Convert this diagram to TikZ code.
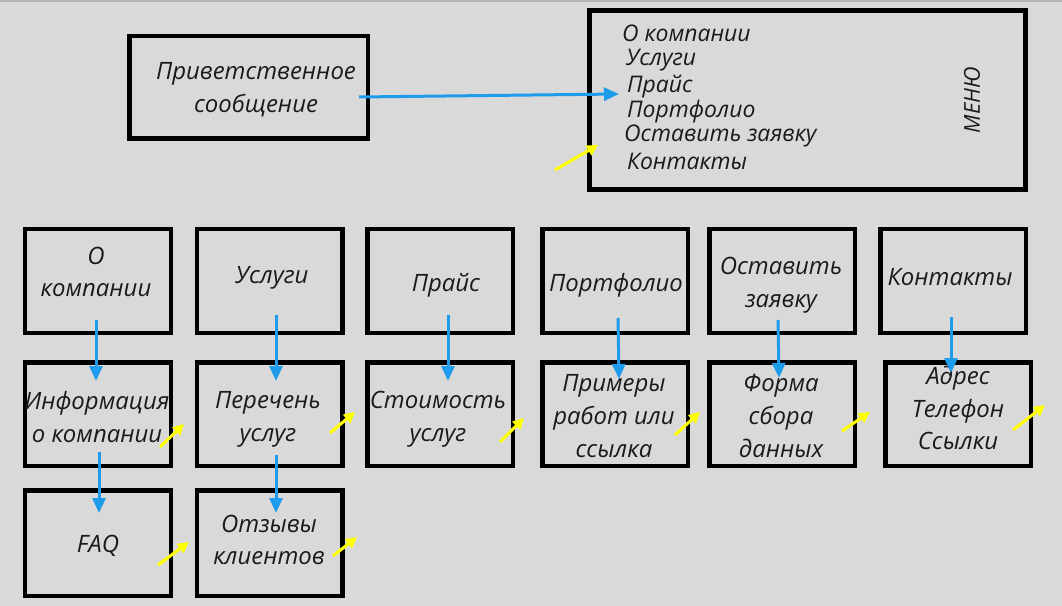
\documentclass[tikz,border=0pt]{standalone}
\usepackage{fontspec}
\setmainfont{Open Sans}
\usetikzlibrary{arrows.meta}
\definecolor{bg}{HTML}{D9D9D9}
\definecolor{topline}{HTML}{B4B4B4}
\definecolor{arrblue}{HTML}{1E9BEA}
\definecolor{arryel}{HTML}{FFFF00}
\definecolor{txt}{HTML}{1A1A1A}
\tikzset{
  box/.style={draw=black, line width=4.5bp, inner sep=0pt, minimum width=145.5bp, minimum height=103.5bp},
  lbl/.style={font=\itshape\fontsize{24}{33}\selectfont, text=txt, align=center, inner sep=0pt},
  mlbl/.style={font=\itshape\fontsize{23}{26}\selectfont, text=txt, anchor=base west, inner sep=0pt},
  barrow/.style={arrblue, line width=3bp, -{Triangle[length=15bp,width=13bp]}},
  yarrow/.style={arryel, line width=3bp, -{Triangle[length=11bp,width=11bp]}}
}
\begin{document}
\begin{tikzpicture}[x=1bp,y=-1bp]
\useasboundingbox (0,0) rectangle (1062,606);
\fill[bg] (0,0) rectangle (1062,606);
\fill[topline] (0,0) rectangle (1062,2);

% top boxes
\node[box, minimum width=238.5bp, minimum height=102.5bp] (greet) at (248.5,87.5) {};
\node[box, line width=5bp, minimum width=436bp, minimum height=179bp] (menu) at (807.5,100) {};

\node[lbl] (greett) at (256,90) {Приветственное\\сообщение};

\node[mlbl] (m1) at (622,42) {О компании};
\node[mlbl] (m2) at (626,66) {Услуги};
\node[mlbl] (m3) at (627,93) {Прайс};
\node[mlbl] (m4) at (627,118) {Портфолио};
\node[mlbl] (m5) at (624,142) {Оставить заявку};
\node[mlbl] (m6) at (627,170) {Контакты};
\node[lbl, font=\itshape\fontsize{22}{26}\selectfont, rotate=90] (menut) at (972,100) {МЕНЮ};

% row 1
\node[box] (b1) at (98,281) {};
\node[box] (b2) at (269.5,281) {};
\node[box] (b3) at (440,281) {};
\node[box] (b4) at (615,281) {};
\node[box] (b5) at (782,281) {};
\node[box] (b6) at (953,281) {};
% row 2
\node[box] (c1) at (98,414) {};
\node[box] (c2) at (269.5,414) {};
\node[box] (c3) at (440,414) {};
\node[box] (c4) at (615,414) {};
\node[box] (c5) at (782,414) {};
\node[box] (c6) at (958,414) {};
% row 3
\node[box, minimum height=105.5bp] (d1) at (98,543) {};
\node[box, minimum height=105.5bp] (d2) at (269.5,543) {};

% labels
\node[lbl] (t1) at (96,272) {О\\компании};
\node[lbl] (t2) at (272,278) {Услуги};
\node[lbl] (t3) at (446,285) {Прайс};
\node[lbl] (t4) at (616,285) {Портфолио};
\node[lbl] (t5) at (781,285) {Оставить\\заявку};
\node[lbl] (t6) at (950,277) {Контакты};

\node[lbl] (u1) at (97,417) {Информация\\о компании};
\node[lbl] (u2) at (268,419) {Перечень\\услуг};
\node[lbl] (u3) at (438,419) {Стоимость\\услуг};
\node[lbl] (u4) at (614,416) {Примеры\\работ или\\ссылка};
\node[lbl] (u5) at (781,416) {Форма\\сбора\\данных};
\node[lbl] (u6) at (958,408) {Адрес\\Телефон\\Ссылки};

\node[lbl] (v1) at (98,546) {FAQ};
\node[lbl] (v2) at (269,540) {Отзывы\\клиентов};

% blue arrow ends
\coordinate (g0) at (359,97);   \coordinate (g1) at (619,94);
\coordinate (a1s) at (96,320);  \coordinate (a1e) at (96,381);
\coordinate (a2s) at (276,315); \coordinate (a2e) at (276,381);
\coordinate (a3s) at (448,315); \coordinate (a3e) at (448,381);
\coordinate (a4s) at (618,318); \coordinate (a4e) at (619,379);
\coordinate (a5s) at (778,320); \coordinate (a5e) at (779,378);
\coordinate (a6s) at (951,317); \coordinate (a6e) at (951,373);
\coordinate (f1s) at (99,452);  \coordinate (f1e) at (99,513);
\coordinate (f2s) at (276,455); \coordinate (f2e) at (276,513);

\draw[barrow] (g0) -- (g1);
\draw[barrow] (a1s) -- (a1e);
\draw[barrow] (a2s) -- (a2e);
\draw[barrow] (a3s) -- (a3e);
\draw[barrow] (a4s) -- (a4e);
\draw[barrow] (a5s) -- (a5e);
\draw[barrow] (a6s) -- (a6e);
\draw[barrow] (f1s) -- (f1e);
\draw[barrow] (f2s) -- (f2e);

% yellow arrows
\coordinate (y0s) at (555,170);  \coordinate (y0e) at (598,145);
\coordinate (y1s) at (160,447);  \coordinate (y1e) at (184,424);
\coordinate (y2s) at (330,433);  \coordinate (y2e) at (355,412);
\coordinate (y3s) at (158,565);  \coordinate (y3e) at (189,542);
\coordinate (y4s) at (333,556);  \coordinate (y4e) at (357,537);
\coordinate (y5s) at (500,442);  \coordinate (y5e) at (524,418);
\coordinate (y6s) at (675,435);  \coordinate (y6e) at (700,412);
\coordinate (y7s) at (842,431);  \coordinate (y7e) at (870,412);
\coordinate (y8s) at (1013,430); \coordinate (y8e) at (1045,405);
\foreach \i in {0,...,8} {\draw[yarrow] (y\i s) -- (y\i e);}
\end{tikzpicture}
\end{document}
